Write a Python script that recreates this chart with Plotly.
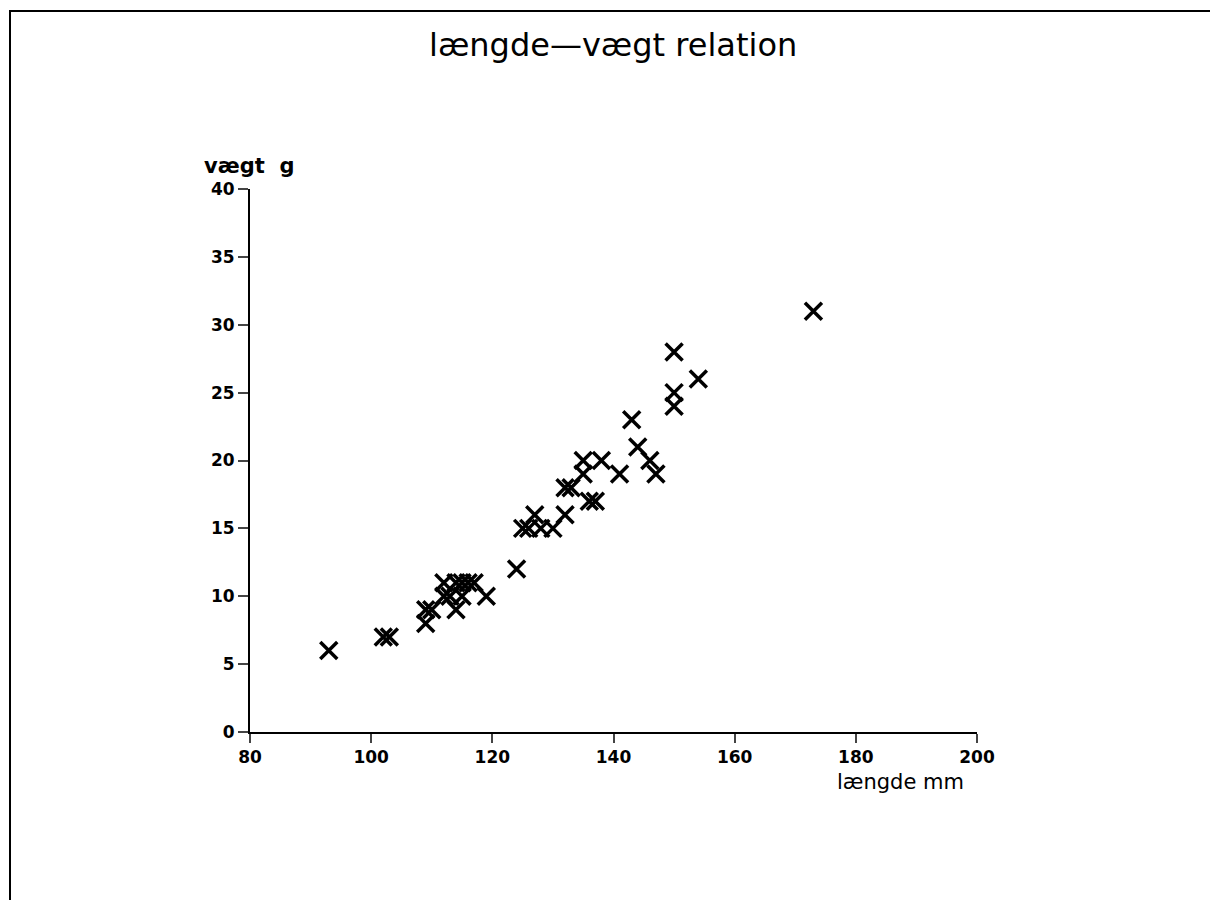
import plotly.graph_objects as go

length_mm = [93, 102, 103, 109, 109, 110, 112, 112, 113, 114, 115, 116, 117, 114, 115, 119,
             124, 125, 126, 127, 128, 130, 132, 132, 133, 135, 135, 138, 136, 137,
             141, 143, 144, 146, 147, 150, 150, 150, 154, 173]
weight_g = [6, 7, 7, 8, 9, 9, 11, 10, 10, 11, 11, 11, 11, 9, 10, 10,
            12, 15, 15, 16, 15, 15, 16, 18, 18, 19, 20, 20, 17, 17,
            19, 23, 21, 20, 19, 28, 25, 24, 26, 31]

x_ticks = [80, 100, 120, 140, 160, 180, 200]
y_ticks = [0, 5, 10, 15, 20, 25, 30, 35, 40]

title_text = "længde\u2014vægt relation"
x_title = "længde mm"
y_title = "vægt\u00a0\u00a0g"

# page body has an 8px margin: work in window pixels, convert to figure pixels
OFF = 8
W, H = 1210, 892
L = 250 - OFF
T = 189 - OFF
R = W - (977 - OFF)
B = H - (732 - OFF)
pw, ph = W - L - R, H - T - B

def px(p):
    return (p - OFF - L) / pw

def py(p):
    return (H - B - (p - OFF)) / ph

tick_font = dict(size=17, family="DejaVu Sans", weight="bold", color="black")

fig = go.Figure()
fig.add_trace(go.Scatter(
    x=length_mm, y=weight_g, mode="markers",
    marker=dict(symbol="x-thin", size=17, color="black",
                line=dict(width=3.5, color="black")),
    showlegend=False, hoverinfo="x+y"))

fig.update_layout(
    width=W, height=H,
    margin=dict(l=L, r=R, t=T, b=B, autoexpand=False),
    paper_bgcolor="white", plot_bgcolor="white",
    font=dict(family="DejaVu Sans", color="black"),
    xaxis=dict(range=[80, 200], tickvals=x_ticks, ticks="outside", ticklen=9,
               tickwidth=2, showline=True, linewidth=2, linecolor="black",
               showgrid=False, zeroline=False, tickfont=tick_font),
    yaxis=dict(range=[0, 40], tickvals=y_ticks, ticks="outside", ticklen=10,
               tickwidth=2, showline=True, linewidth=2, linecolor="black",
               showgrid=False, zeroline=False, tickfont=tick_font),
    annotations=[
        dict(text=title_text, x=px(613), y=py(45), xref="paper", yref="paper",
             showarrow=False, font=dict(size=32, family="DejaVu Sans"),
             xanchor="center", yanchor="middle"),
        dict(text=y_title, x=px(202), y=py(166), xref="paper", yref="paper",
             showarrow=False, font=dict(size=21, family="DejaVu Sans", weight="bold"),
             xanchor="left", yanchor="middle"),
        dict(text=x_title, x=px(835), y=py(782), xref="paper", yref="paper",
             showarrow=False, font=dict(size=21, family="DejaVu Sans"),
             xanchor="left", yanchor="middle"),
    ],
    shapes=[
        dict(type="rect", xref="paper", yref="paper",
             x0=px(10), x1=px(1214), y0=py(930), y1=py(11),
             line=dict(color="black", width=2)),
    ],
)

fig.write_html("out.html")
